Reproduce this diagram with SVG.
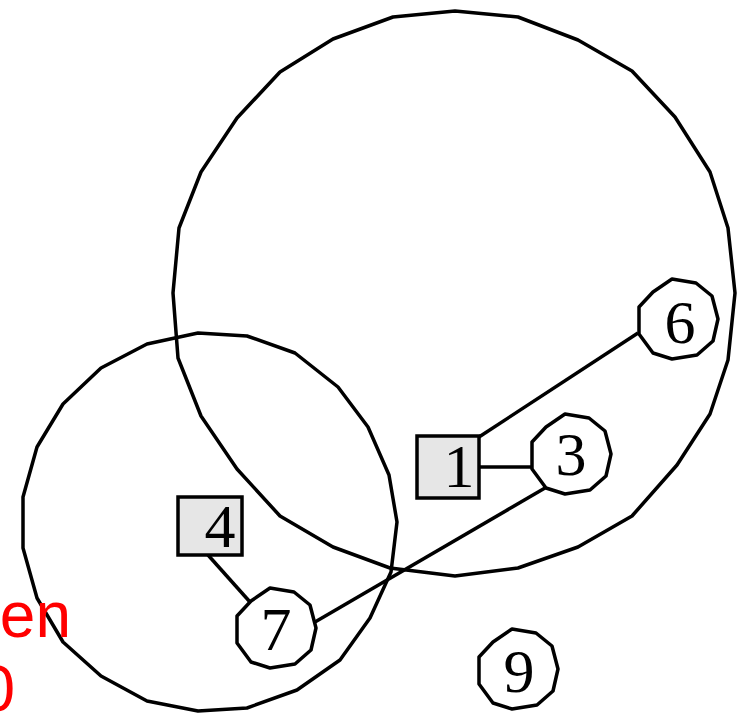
<svg xmlns="http://www.w3.org/2000/svg" xmlns:xlink="http://www.w3.org/1999/xlink" width="746" height="717" viewBox="0 0 746 717">
<style>
.hull{fill:none;stroke:#000;stroke-width:3.5;stroke-linejoin:round}
.edge{stroke:#000;stroke-width:3.5;fill:none}
.box{fill:#e6e6e6;stroke:#000;stroke-width:3.5}
.oct{fill:#fff;stroke:#000;stroke-width:3.5;stroke-linejoin:round}
.lbl{font-family:"Liberation Serif","Times New Roman",serif;font-size:62px;fill:#000;text-anchor:middle}
.red{font-family:"Liberation Sans",Arial,sans-serif;font-size:64px;fill:#ff0000;text-anchor:end}
</style>
<defs>
<polygon id="deca" points="-6,-40 18,-36 34,-23 40,0 35,22 19,36 -6,40 -25,34 -39,15 -39,-12 -25,-27"/>
</defs>
<g id="hulls">
<polygon id="hull-big" class="hull" points="455,11 518,17 578,40 632,71 675,117 710,172 728,228 735,293 728,360 710,414 677,465 632,516 578,547 518,568 455,576 390,568 333,547 280,516 237,469 201,416 178,358 173,293 179,228 201,172 237,118 280,72 333,39 393,17"/>
<polygon id="hull-small" class="hull" points="198,333 247,336 295,353 338,387 368,427 389,475 397,522 391,572 370,618 340,660 297,690 247,708 198,711 147,701 101,676 63,642 37,598 23,548 23,497 37,447 63,404 101,368 147,344"/>
</g>
<g id="red-labels">
<text class="red" x="71" y="637">en</text>
<text class="red" x="15" y="711">0</text>
</g>
<g id="connectors">
<line class="edge" x1="479" y1="437" x2="638" y2="333"/>
<line class="edge" x1="479" y1="467" x2="532" y2="467"/>
<line class="edge" x1="545" y1="488" x2="315" y2="622"/>
<line class="edge" x1="208" y1="555" x2="250" y2="602"/>
</g>
<g id="node-1">
<rect class="box" x="417" y="436" width="62" height="62"/>
<text class="lbl" x="459" y="487">1</text>
</g>
<g id="node-4">
<rect class="box" x="178" y="497" width="64" height="58"/>
<text class="lbl" x="220" y="547">4</text>
</g>
<g id="node-3">
<use xlink:href="#deca" class="oct" x="571" y="454"/>
<text class="lbl" x="571" y="475">3</text>
</g>
<g id="node-6">
<use xlink:href="#deca" class="oct" x="678" y="319"/>
<text class="lbl" x="680" y="343">6</text>
</g>
<g id="node-7">
<use xlink:href="#deca" class="oct" x="276" y="628"/>
<text class="lbl" x="276" y="650">7</text>
</g>
<g id="node-9">
<use xlink:href="#deca" class="oct" x="518" y="669"/>
<text class="lbl" x="519" y="692">9</text>
</g>
</svg>
